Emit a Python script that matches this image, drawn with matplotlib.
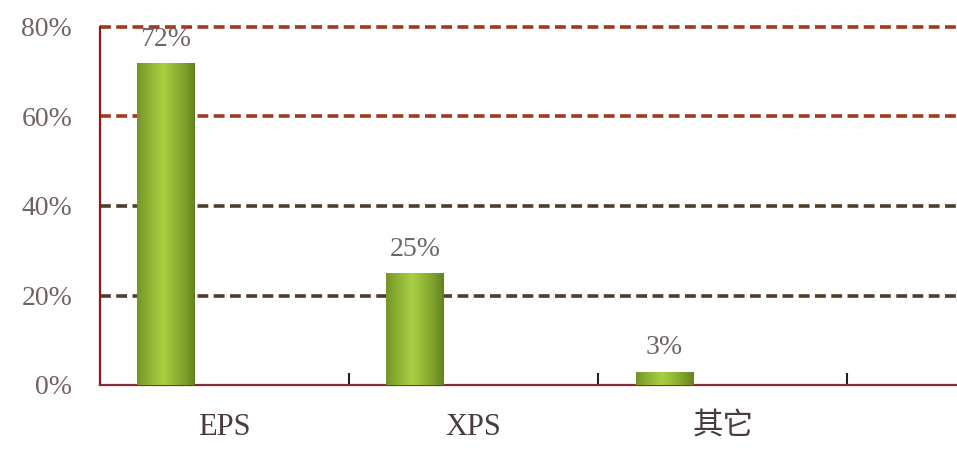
import numpy as np
import matplotlib
matplotlib.use('Agg')
import matplotlib.pyplot as plt

plt.rcParams['font.family'] = ['Liberation Serif', 'Noto Sans CJK SC', 'DejaVu Sans']

# Data
categories = ['EPS', 'XPS', '其它']
shares = [72, 25, 3]
y_ticks = [0, 20, 40, 60, 80]
y_tick_labels = ['0%', '20%', '40%', '60%', '80%']

fig = plt.figure(figsize=(9.57, 4.5), dpi=100)
ax = fig.add_axes([100 / 957, 65 / 450, 857 / 957, 358 / 450])

x = np.arange(len(categories))
bar_offset = -0.235
bar_width = 0.23

bars = ax.bar(x + bar_offset, shares, width=bar_width, color='#8cb030', zorder=3)

# horizontal green gradient on each bar
grad = np.linspace(0, 1, 256)
shade = 1 - np.abs(grad - 0.45) / 0.55
shade = np.clip(shade, 0, 1) ** 0.8
dark = np.array([0.38, 0.50, 0.12])
light = np.array([0.66, 0.81, 0.26])
img = dark[None, :] + (light - dark)[None, :] * shade[:, None]
img = img[None, :, :]
for b in bars:
    x0, y0 = b.get_x(), b.get_y()
    w, h = b.get_width(), b.get_height()
    im = ax.imshow(img, extent=[x0, x0 + w, y0, y0 + h], aspect='auto', zorder=4)
    im.set_clip_path(b)

# value labels
for xi, v in zip(x, shares):
    ax.annotate(f'{v}%', (xi + bar_offset, v), xytext=(0, 8), textcoords='offset points',
                ha='center', va='bottom', fontsize=20, color='#6e6666', zorder=5)

# dashed grid lines
grid_colors = ['#4e3c2c', '#4e3c2c', '#a3381c', '#a3381c']
for lvl, c in zip(y_ticks[1:], grid_colors):
    ax.axhline(lvl, color=c, lw=2.6, dashes=(3.0, 1.5), zorder=2, clip_on=False)

ax.set_xlim(-0.5, 2.94)
ax.set_ylim(0, 80)

ax.set_yticks(y_ticks)
ax.set_yticklabels(y_tick_labels, fontsize=20, color='#746262')
ax.tick_params(axis='y', length=0, pad=20)

ax.set_xticks(x)
ax.set_xticklabels(categories, fontsize=22, color='#4a3c3c')
ax.set_xticks(x + 0.5, minor=True)
ax.tick_params(axis='x', which='major', length=0, pad=20)
ax.tick_params(axis='x', which='minor', direction='in', length=9, width=1.5, color='#222222')

for s in ['top', 'right']:
    ax.spines[s].set_visible(False)
ax.spines['left'].set_color('#8b1a1a')
ax.spines['left'].set_linewidth(1.6)
ax.spines['bottom'].set_color('#8b2a3a')
ax.spines['bottom'].set_linewidth(1.6)

fig.savefig('out.png', dpi=100)
